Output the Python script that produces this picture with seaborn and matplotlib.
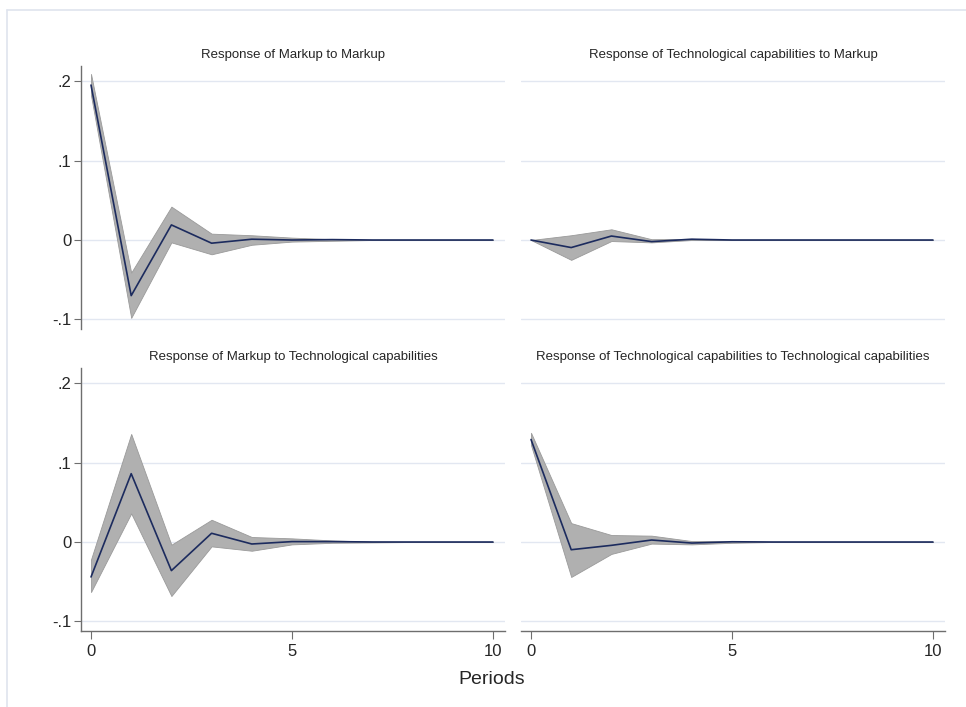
import numpy as np
import pandas as pd
import matplotlib
matplotlib.use("Agg")
import matplotlib.pyplot as plt
from matplotlib.lines import Line2D
import seaborn as sns

# 数据：脉冲响应函数及置信区间
periods = list(range(11))

titles = [
    "Response of Markup to Markup",
    "Response of Technological capabilities to Markup",
    "Response of Markup to Technological capabilities",
    "Response of Technological capabilities to Technological capabilities",
]

irf_mm = [0.195, -0.070, 0.019, -0.004, 0.001, 0.0, 0.0005, 0.0, 0.0, 0.0, 0.0]
lo_mm = [0.182, -0.098, -0.003, -0.018, -0.006, -0.002, -0.001, 0.0, 0.0, 0.0, 0.0]
hi_mm = [0.209, -0.041, 0.042, 0.008, 0.006, 0.003, 0.001, 0.0, 0.0, 0.0, 0.0]

irf_tm = [0.0, -0.0095, 0.005, -0.002, 0.001, 0.0, 0.0, 0.0, 0.0, 0.0, 0.0]
lo_tm = [0.0, -0.025, -0.0013, -0.003, 0.0, 0.0, 0.0, 0.0, 0.0, 0.0, 0.0]
hi_tm = [0.0, 0.006, 0.0135, 0.001, 0.0015, 0.0, 0.0, 0.0, 0.0, 0.0, 0.0]

irf_mt = [-0.044, 0.086, -0.036, 0.011, -0.0025, 0.0005, 0.0005, 0.0, 0.0, 0.0, 0.0]
lo_mt = [-0.063, 0.036, -0.068, -0.0055, -0.011, -0.003, -0.001, -0.0005, 0.0, 0.0, 0.0]
hi_mt = [-0.022, 0.136, -0.0034, 0.028, 0.0063, 0.0046, 0.002, 0.0005, 0.0, 0.0, 0.0]

irf_tt = [0.129, -0.0097, -0.0042, 0.0025, -0.0013, 0.0003, 0.0, 0.0, 0.0, 0.0, 0.0]
lo_tt = [0.122, -0.044, -0.015, -0.002, -0.003, -0.001, 0.0, 0.0, 0.0, 0.0, 0.0]
hi_tt = [0.1375, 0.0238, 0.0088, 0.008, 0.0012, 0.001, 0.0, 0.0, 0.0, 0.0, 0.0]

series = [
    (irf_mm, lo_mm, hi_mm),
    (irf_tm, lo_tm, hi_tm),
    (irf_mt, lo_mt, hi_mt),
    (irf_tt, lo_tt, hi_tt),
]

ytick_vals = [-0.1, 0, 0.1, 0.2]
ytick_labels = ["-.1", "0", ".1", ".2"]
xtick_vals = [0, 5, 10]

sns.set_style("white")
plt.rcParams["font.family"] = ["Liberation Sans Narrow", "Liberation Sans", "DejaVu Sans"]

W, H = 966, 707
fig = plt.figure(figsize=(W / 100, H / 100), dpi=100)

line_col = "#1c2b5e"
band_col = "#b0b0b0"
band_edge = "#9a9a9a"
grid_col = "#e2e7f1"
axis_col = "#6e6e6e"

# 面板位置（像素）
lefts = [81, 521, 81, 521]
tops = [66, 66, 368, 368]
pw, ph = 424, 263

for i, (irf, lo, hi) in enumerate(series):
    l, t = lefts[i], tops[i]
    ax = fig.add_axes([l / W, 1 - (t + ph) / H, pw / W, ph / H])
    df = pd.DataFrame({"step": periods, "irf": irf, "lo": lo, "hi": hi})
    ax.fill_between(df["step"], df["lo"], df["hi"], color=band_col,
                    edgecolor=band_edge, linewidth=0.6, zorder=2)
    sns.lineplot(data=df, x="step", y="irf", ax=ax, color=line_col,
                 linewidth=1.2, zorder=3)
    ax.set_xlim(-0.249, 10.3)
    ax.set_ylim(-0.112, 0.219)
    ax.set_yticks(ytick_vals)
    for y in ytick_vals:
        ax.axhline(y, color=grid_col, linewidth=1.0, zorder=1)
    ax.set_xlabel("")
    ax.set_ylabel("")
    ax.set_title(titles[i], fontsize=9.5, pad=6)
    for s in ["top", "right"]:
        ax.spines[s].set_visible(False)
    left_col = i % 2 == 0
    bottom_row = i >= 2
    if left_col:
        ax.spines["left"].set_color(axis_col)
        ax.spines["left"].set_linewidth(1.0)
        ax.set_yticklabels(ytick_labels, fontsize=12)
        ax.tick_params(axis="y", length=5, color=axis_col, direction="out", left=True, pad=2)
    else:
        ax.spines["left"].set_visible(False)
        ax.set_yticklabels([])
        ax.tick_params(axis="y", length=0, left=False)
    if bottom_row:
        ax.spines["bottom"].set_color(axis_col)
        ax.spines["bottom"].set_linewidth(1.0)
        ax.set_xticks(xtick_vals)
        ax.set_xticklabels([str(v) for v in xtick_vals], fontsize=12)
        ax.tick_params(axis="x", length=6, color=axis_col, direction="out", bottom=True, pad=3)
    else:
        ax.spines["bottom"].set_visible(False)
        ax.set_xticks([])

fig.text(492 / W, 1 - 679 / H, "Periods", ha="center", va="center", fontsize=14)

# 外框
fig.add_artist(Line2D([7 / W, 7 / W], [0, 1 - 10 / H], color="#dfe4ee", linewidth=1.2))
fig.add_artist(Line2D([7 / W, 1], [1 - 10 / H, 1 - 10 / H], color="#dfe4ee", linewidth=1.2))

fig.savefig("out.png", dpi=100, facecolor="white")
